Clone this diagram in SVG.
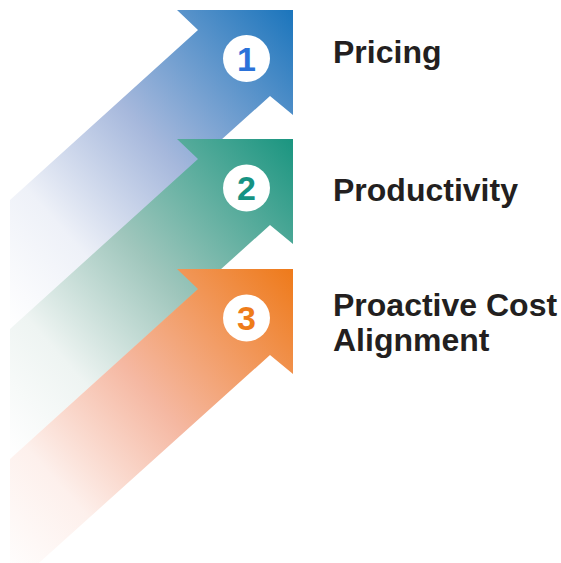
<svg xmlns="http://www.w3.org/2000/svg" width="561" height="563" viewBox="0 0 561 563">
  <defs>
    <linearGradient id="gBlue" x1="0" y1="1" x2="1" y2="0">
      <stop offset="0" stop-color="#ffffff"/>
      <stop offset="0.25" stop-color="#eef1f8"/>
      <stop offset="0.55" stop-color="#a6b8dc"/>
      <stop offset="1" stop-color="#1b75bc"/>
    </linearGradient>
    <linearGradient id="gTeal" x1="0" y1="1" x2="1" y2="0">
      <stop offset="0" stop-color="#ffffff"/>
      <stop offset="0.25" stop-color="#eef4f2"/>
      <stop offset="0.55" stop-color="#9fc6bc"/>
      <stop offset="1" stop-color="#1a9580"/>
    </linearGradient>
    <linearGradient id="gOrange" x1="0" y1="1" x2="1" y2="0">
      <stop offset="0" stop-color="#ffffff"/>
      <stop offset="0.25" stop-color="#fdf0ec"/>
      <stop offset="0.55" stop-color="#f5b8a2"/>
      <stop offset="1" stop-color="#ee7a1a"/>
    </linearGradient>
  </defs>
  <style>
    .num { font-family: "Liberation Sans", Arial, sans-serif; font-weight: bold; font-size: 34px; text-anchor: middle; }
    .label { font-family: "Liberation Sans", Arial, sans-serif; font-weight: bold; font-size: 32px; fill: #231f20; }
  </style>
  <rect width="561" height="563" fill="#ffffff"/>
  <g id="step1">
    <polygon points="177,10 293,10 293,115 270,96 10,330 10,200 198,30" fill="url(#gBlue)"/>
    <circle cx="246.5" cy="58.5" r="23.5" fill="#ffffff"/>
    <text class="num" x="246.5" y="70.5" fill="#2b72d9">1</text>
    <text class="label" x="333" y="63">Pricing</text>
  </g>
  <g id="step2">
    <polygon points="177,139 293,139 293,244 270,225 10,459 10,329 198,159" fill="url(#gTeal)"/>
    <circle cx="246.5" cy="188" r="23.5" fill="#ffffff"/>
    <text class="num" x="246.5" y="200" fill="#169383">2</text>
    <text class="label" x="333" y="201">Productivity</text>
  </g>
  <g id="step3">
    <polygon points="177,269 293,269 293,374 270,355 10,589 10,459 198,289" fill="url(#gOrange)"/>
    <circle cx="246.5" cy="318" r="23.5" fill="#ffffff"/>
    <text class="num" x="246.5" y="330" fill="#ee7c1a">3</text>
    <text class="label" x="333" y="316">Proactive Cost</text>
    <text class="label" x="333" y="351">Alignment</text>
  </g>
  <g id="connectors"/>
</svg>
